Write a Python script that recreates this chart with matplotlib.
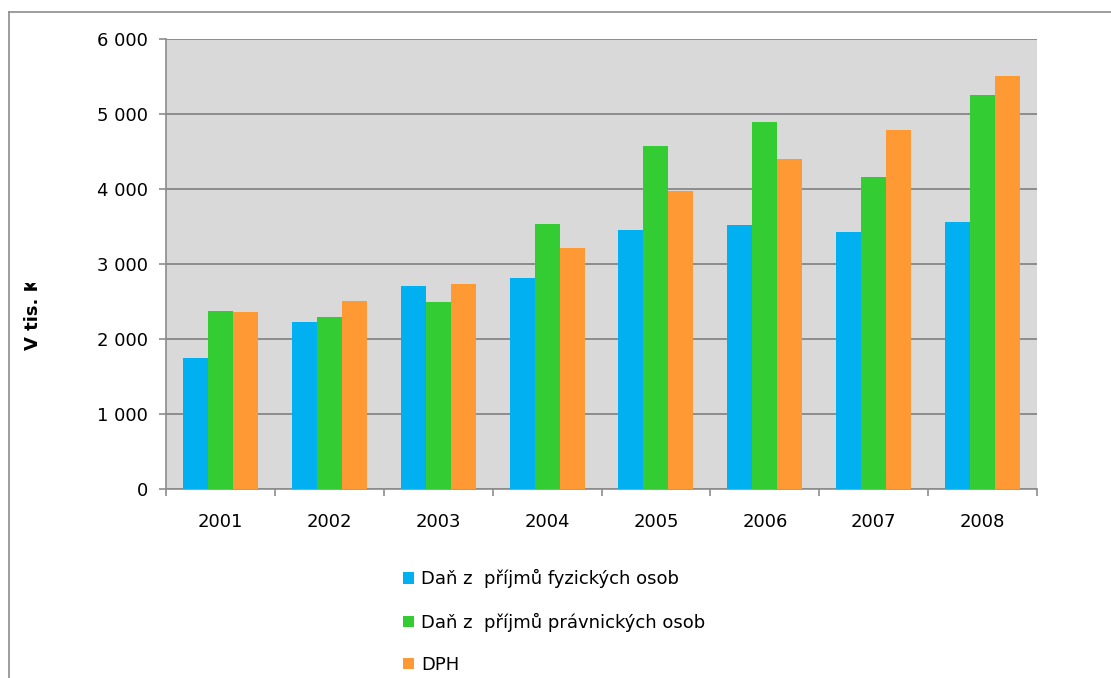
import matplotlib
matplotlib.use("Agg")
import matplotlib.pyplot as plt
from matplotlib.lines import Line2D
from matplotlib.patches import Rectangle
from matplotlib.ticker import FuncFormatter, FixedLocator
import numpy as np

years = ["2001", "2002", "2003", "2004", "2005", "2006", "2007", "2008"]
series_names = ["Daň z  příjmů fyzických osob",
                "Daň z  příjmů právnických osob",
                "DPH"]
dan_fyzicke = [1750, 2230, 2710, 2815, 3455, 3520, 3430, 3560]
dan_pravnicke = [2375, 2295, 2495, 3535, 4575, 4895, 4160, 5255]
dph = [2360, 2505, 2735, 3215, 3975, 4400, 4790, 5510]
y_ticks = [0, 1000, 2000, 3000, 4000, 5000, 6000]
y_label = "V tis. Kč"

colors = ["#00B0F0", "#33CC33", "#FF9933"]
grid_color = "#8C8C8C"

plt.rcParams["font.family"] = ["DejaVu Sans"]
fig = plt.figure(figsize=(11.11, 6.78), dpi=100)
ax = fig.add_axes([166 / 1111, 1 - 489 / 678, 871 / 1111, 450 / 678])
ax.set_facecolor("#D9D9D9")

x = np.arange(len(years))
width = 0.23
handles = []
for i, (vals, name, col) in enumerate(zip([dan_fyzicke, dan_pravnicke, dph], series_names, colors)):
    b = ax.bar(x + (i - 1) * width, vals, width, color=col, label=name, zorder=3)
    handles.append(b)

ax.set_xlim(-0.5, len(years) - 0.5)
ax.set_ylim(0, 6000)
ax.yaxis.set_major_locator(FixedLocator(y_ticks))
ax.yaxis.set_major_formatter(FuncFormatter(lambda v, p: f"{int(v):,}".replace(",", " ")))
ax.grid(axis="y", color=grid_color, linewidth=1.4, zorder=1)
ax.set_axisbelow(True)

# category boundary ticks below the axis, labels centred in each category
ax.set_xticks(np.arange(-0.5, len(years)), minor=False)
ax.set_xticklabels([])
ax.set_xticks(x, minor=True)
ax.set_xticklabels(years, minor=True)
ax.tick_params(axis="x", which="major", length=5, width=1.2, color=grid_color)
ax.tick_params(axis="x", which="minor", length=0, pad=17, labelsize=13)
ax.tick_params(axis="y", length=5, width=1.2, color=grid_color, pad=8, labelsize=13)

for side in ["top", "right"]:
    ax.spines[side].set_visible(False)
for side in ["left", "bottom"]:
    ax.spines[side].set_color(grid_color)
    ax.spines[side].set_linewidth(1.2)

# axis title, partially hidden
fig.text(33 / 1111, 1 - 350 / 678, y_label, rotation=90, ha="center", va="bottom",
         fontsize=13, fontweight="bold")
fig.patches.append(Rectangle((18 / 1111, 1 - 283 / 678), 35 / 1111, 120 / 678,
                             transform=fig.transFigure, facecolor="white",
                             edgecolor="none", zorder=10))

leg = fig.legend(handles=handles, labels=series_names, loc="upper left",
                 bbox_to_anchor=(396 / 1111, 1 - 562 / 678), frameon=False,
                 fontsize=13, handlelength=0.6, handleheight=0.6,
                 handletextpad=0.4, labelspacing=1.35, borderaxespad=0)

# outer chart frame (top and left edges)
fig.add_artist(Line2D([9 / 1111, 1], [1 - 11.5 / 678, 1 - 11.5 / 678],
                      transform=fig.transFigure, color=grid_color, linewidth=1.2))
fig.add_artist(Line2D([9 / 1111, 9 / 1111], [0, 1 - 11.5 / 678],
                      transform=fig.transFigure, color=grid_color, linewidth=1.2))

fig.savefig("out.png", dpi=100, facecolor="white")
